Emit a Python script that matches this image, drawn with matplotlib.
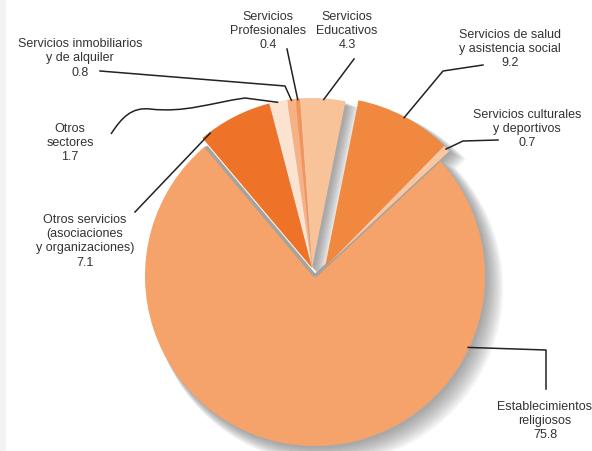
import matplotlib.pyplot as plt
import numpy as np
from matplotlib.path import Path
from matplotlib.patches import PathPatch, Rectangle

plt.rcParams['font.family'] = ['Liberation Sans', 'DejaVu Sans']

# data, counterclockwise from the right edge of the upper group
sectors = ["Servicios culturales\ny deportivos",
           "Servicios de salud\ny asistencia social",
           "Servicios\nEducativos",
           "Servicios\nProfesionales",
           "Servicios inmobiliarios\ny de alquiler",
           "Otros\nsectores",
           "Otros servicios\n(asociaciones\ny organizaciones)",
           "Establecimientos\nreligiosos"]
shares = [0.7, 9.2, 4.3, 0.4, 0.8, 1.7, 7.1, 75.8]
colors = ["#F9C6A0", "#F08840", "#F9C39A", "#F3955A", "#F7B184",
          "#FCE3D0", "#EE7227", "#F5A36B"]

W, H = 592, 452
CX, CY, R = 315, H - 277, 170
# pull-out of each slice in pixels (dx, dy)
shift = [(10, 9), (10, 9), (-3, 8), (-3, 8), (-3, 8), (-3, 8), (-3, 8), (0, 0)]
start = 43

fig = plt.figure(figsize=(W / 100, H / 100), dpi=100)
ax = fig.add_axes([0, 0, 1, 1])

ax.add_patch(Rectangle((0, 0), 6, H, color="#f3f3f3", lw=0, zorder=0))


def place(wedges, cx, cy):
    for w, (dx, dy) in zip(wedges, shift):
        w.set_center((cx + dx, cy + dy))


# soft drop shadow
for k in range(14):
    d = 2 + k * 0.8
    sw, _ = ax.pie(shares, startangle=start, radius=R + k * 0.45,
                   colors=["#505050"] * len(shares),
                   wedgeprops=dict(alpha=0.045, lw=0), frame=True)
    place(sw, CX + d, CY - d)

wedges, _ = ax.pie(shares, startangle=start, radius=R,
                   colors=colors, wedgeprops=dict(lw=0), frame=True)
place(wedges, CX, CY)
for w in wedges[:-1]:
    w.set_zorder(3)

# grey rim along the notch of the big slice
big = wedges[-1]
for th in (big.theta1, big.theta2):
    ax.plot([CX, CX + (R - 1) * np.cos(np.radians(th))],
            [CY, CY + (R - 1) * np.sin(np.radians(th))],
            color="#A8A29C", lw=2.6, zorder=2, solid_capstyle='butt')

ax.set_xlim(0, W)
ax.set_ylim(0, H)
ax.set_aspect('equal')
ax.axis('off')

# label layout (pixel coords from top), leader points, anchor angle on wedge
layout = [
    dict(xy=(527, 109), pts=[(498, 141), (463, 142)], ang=None),
    dict(xy=(510, 29), pts=[(483, 66), (443, 72)], ang=None),
    dict(xy=(347, 11), pts=[(354, 60)], ang=86),
    dict(xy=(268, 11), pts=[(287, 50)], ang=None),
    dict(xy=(80, 38), pts=[(100, 72), (285, 87)], ang=None),
    dict(xy=(70, 123), pts=None, ang=None),
    dict(xy=(85, 214), pts=[(135, 213)], ang=127),
    dict(xy=(545, 401), pts=[(546, 390), (546, 351)], ang=-25),
]

for w, lab, val, lo in zip(wedges, sectors, shares, layout):
    tx, ty = lo['xy']
    ax.text(tx, H - ty, f"{lab}\n{val}", ha='center', va='top', fontsize=9,
            color="#333333", linespacing=1.25)
    ang = lo['ang'] if lo['ang'] is not None else (w.theta1 + w.theta2) / 2
    ex = w.center[0] + (w.r - 1) * np.cos(np.radians(ang))
    ey = w.center[1] + (w.r - 1) * np.sin(np.radians(ang))
    if lo['pts'] is None:
        verts = [(111, H - 135), (122, H - 118), (132, H - 108), (150, H - 110),
                 (185, H - 114), (210, H - 104), (245, H - 99), (ex, ey)]
        codes = [Path.MOVETO, Path.CURVE4, Path.CURVE4, Path.CURVE4,
                 Path.CURVE4, Path.CURVE4, Path.CURVE4, Path.LINETO]
        ax.add_patch(PathPatch(Path(verts, codes), fill=False, lw=1.1,
                               color="#222222", zorder=5))
        continue
    xs = [p[0] for p in lo['pts']] + [ex]
    ys = [H - p[1] for p in lo['pts']] + [ey]
    ax.plot(xs, ys, color="#222222", lw=1.1, zorder=5)

fig.savefig("out.png", dpi=100)
